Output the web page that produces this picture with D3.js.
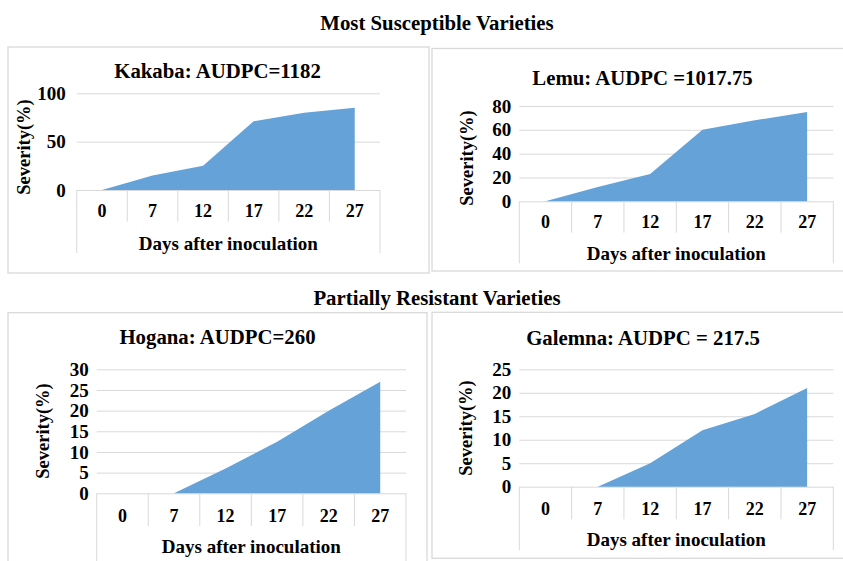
<!DOCTYPE html>
<html><head><meta charset="utf-8">
<script src="https://cdn.jsdelivr.net/npm/d3@7"></script>
<style>
body{margin:0;background:#fff}
svg text{font-family:"Liberation Serif","Tinos","DejaVu Serif",serif;font-weight:bold;fill:#000}
</style></head><body>
<svg id="chart" width="843" height="561"></svg>
<script>
// data
const days = ["0", "7", "12", "17", "22", "27"];
const kakaba = [0, 15, 25, 71, 80, 85];
const lemu = [0, 12, 23, 60, 68, 75];
const hogana = [0, 0, 6, 12.5, 20, 27];
const galemna = [0, 0, 5, 12, 15.5, 21];
const kakabaTicks = [0, 50, 100];
const lemuTicks = [0, 20, 40, 60, 80];
const hoganaTicks = [0, 5, 10, 15, 20, 25, 30];
const galemnaTicks = [0, 5, 10, 15, 20, 25];
const groupTitles = ["Most Susceptible Varieties", "Partially Resistant Varieties"];
const chartTitles = ["Kakaba: AUDPC=1182", "Lemu: AUDPC =1017.75", "Hogana: AUDPC=260", "Galemna: AUDPC = 217.5"];
const xTitle = "Days after inoculation";
const yTitle = "Severity(%)";

const svg = d3.select("#chart");
const gridCol = "#d9d9d9", fillCol = "#65a2d8";
const serif = "'Liberation Serif','Tinos','DejaVu Serif',serif";

// layout of each panel (pixels)
const panels = [
  {vals: kakaba, ticks: kakabaTicks, title: chartTitles[0], frame: [8, 47, 429, 273],
   x0: 76.7, x1: 380, y0: 190, y1: 93.3, titleX: 217.5, titleY: 78, gap: 11,
   catY: 216.7, divY: 221.7, outerY: 253, axisY: 250, yTX: 24, yTY: 147},
  {vals: lemu, ticks: lemuTicks, title: chartTitles[1], frame: [432, 48.5, 860, 271],
   x0: 519.3, x1: 833.3, y0: 201.3, y1: 106, titleX: 642.5, titleY: 85, gap: 8,
   catY: 228, divY: 232.7, outerY: 263.3, axisY: 260, yTX: 467, yTY: 158},
  {vals: hogana, ticks: hoganaTicks, title: chartTitles[2], frame: [8, 312.7, 427, 590],
   x0: 96.7, x1: 406, y0: 493.3, y1: 369.3, titleX: 217.5, titleY: 344.3, gap: 8,
   catY: 521.7, divY: 526, outerY: 565, axisY: 552.5, yTX: 43, yTY: 431},
  {vals: galemna, ticks: galemnaTicks, title: chartTitles[3], frame: [432, 312.3, 860, 558.3],
   x0: 519.3, x1: 833.3, y0: 486.7, y1: 369.3, titleX: 643, titleY: 345, gap: 8,
   catY: 515, divY: 519.3, outerY: 550, axisY: 546, yTX: 466, yTY: 428}
];

// group headings
svg.append("text").attr("x", 437).attr("y", 30).attr("text-anchor", "middle")
  .style("font-size", "20.8px").text(groupTitles[0]);
svg.append("text").attr("x", 437).attr("y", 304.7).attr("text-anchor", "middle")
  .style("font-size", "20.8px").text(groupTitles[1]);

panels.forEach(function(p){
  const g = svg.append("g");
  const f = p.frame;
  g.append("rect").attr("x", f[0]).attr("y", f[1])
    .attr("width", f[2] - f[0]).attr("height", f[3] - f[1])
    .attr("fill", "none").attr("stroke", gridCol).attr("stroke-width", 1.3);

  const x = d3.scaleBand().domain(days).range([p.x0, p.x1]).padding(0);
  const y = d3.scaleLinear().domain([0, d3.max(p.ticks)]).range([p.y0, p.y1]);

  // gridlines
  g.append("g").attr("transform", `translate(${p.x0},0)`)
    .call(d3.axisLeft(y).tickValues(p.ticks).tickSize(-(p.x1 - p.x0)).tickFormat(""))
    .call(a => a.select(".domain").remove())
    .call(a => a.selectAll("line").attr("stroke", gridCol).attr("stroke-width", 1));

  // area
  const area = d3.area()
    .x((d, i) => x(days[i]) + x.bandwidth() / 2)
    .y0(y(0))
    .y1(d => y(d));
  g.append("path").datum(p.vals).attr("d", area).attr("fill", fillCol);

  // y tick labels
  g.append("g").attr("transform", `translate(${p.x0 - p.gap},0)`)
    .call(d3.axisLeft(y).tickValues(p.ticks).tickSize(0).tickPadding(0))
    .call(a => a.select(".domain").remove())
    .call(a => a.selectAll("text").style("font-size", "19px")
      .style("font-family", serif).attr("fill", "#000"));

  // category table lines
  days.forEach(function(d, i){
    if (i === 0) return;
    g.append("line").attr("x1", x(d)).attr("x2", x(d)).attr("y1", p.y0).attr("y2", p.divY)
      .attr("stroke", gridCol).attr("stroke-width", 1);
  });
  [p.x0, p.x1].forEach(function(xx){
    g.append("line").attr("x1", xx).attr("x2", xx).attr("y1", p.y0).attr("y2", p.outerY)
      .attr("stroke", gridCol).attr("stroke-width", 1);
  });

  // category labels
  g.selectAll(".cat").data(days).enter().append("text")
    .attr("x", d => x(d) + x.bandwidth() / 2).attr("y", p.catY)
    .attr("text-anchor", "middle").style("font-size", "18px").text(d => d);

  g.append("text").attr("x", (p.x0 + p.x1) / 2).attr("y", p.axisY)
    .attr("text-anchor", "middle").style("font-size", "19px").text(xTitle);

  g.append("text").attr("transform", `translate(${p.yTX},${p.yTY}) rotate(-90)`)
    .attr("text-anchor", "middle").attr("dy", "0.35em").style("font-size", "18.5px").text(yTitle);

  g.append("text").attr("x", p.titleX).attr("y", p.titleY)
    .attr("text-anchor", "middle").style("font-size", "20.8px").text(p.title);
});
</script>
</body></html>
